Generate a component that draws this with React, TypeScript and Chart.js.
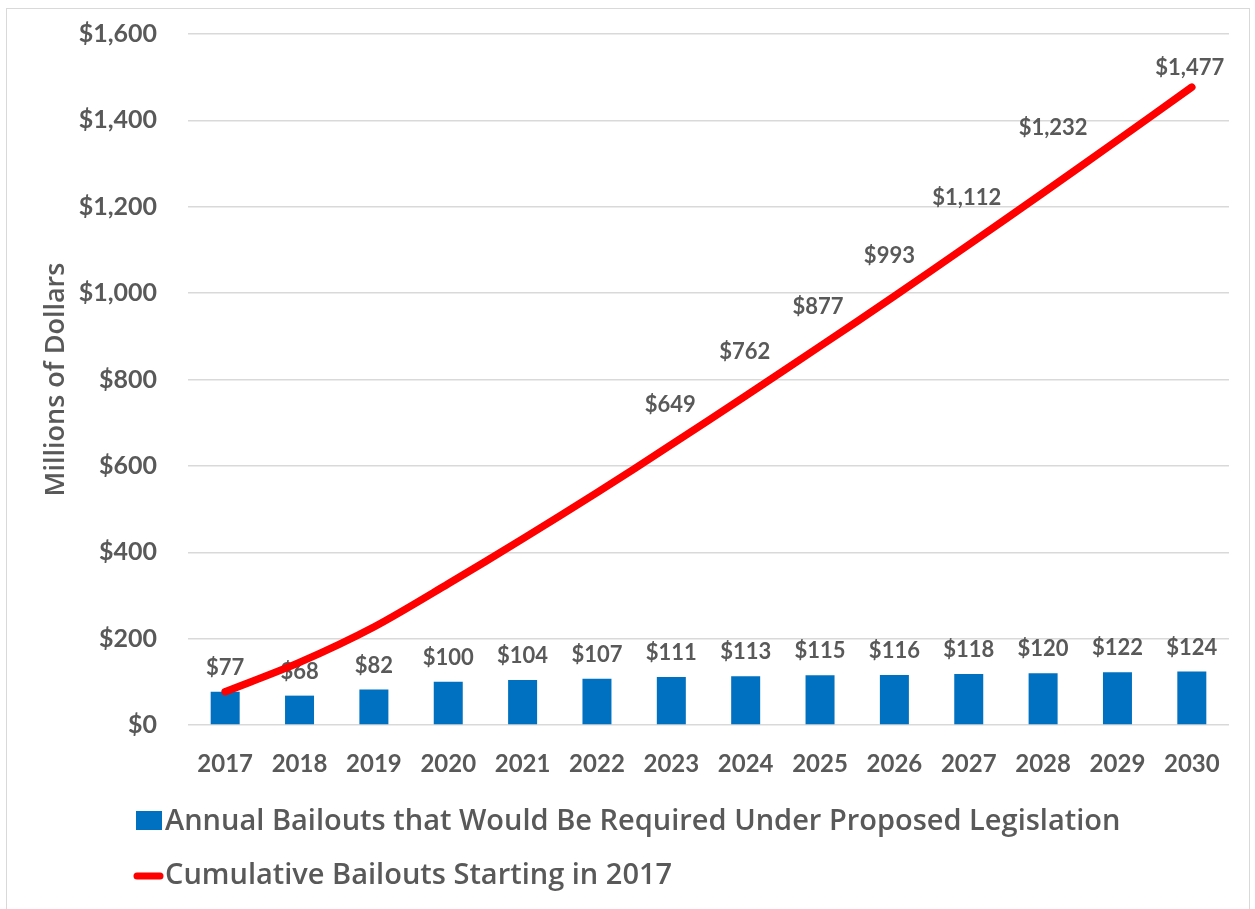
import React, { useEffect, useRef } from "react";
import { Chart, registerables } from "chart.js";

Chart.register(...registerables);

// ---- Data ----
const years = ["2017", "2018", "2019", "2020", "2021", "2022", "2023", "2024", "2025", "2026", "2027", "2028", "2029", "2030"];
const annualBailouts = [77, 68, 82, 100, 104, 107, 111, 113, 115, 116, 118, 120, 122, 124];
const cumulativeBailouts = [77, 145, 227, 327, 431, 538, 649, 762, 877, 993, 1112, 1232, 1354, 1477];
const barLabels = ["$77", "$68", "$82", "$100", "$104", "$107", "$111", "$113", "$115", "$116", "$118", "$120", "$122", "$124"];
const lineLabels: (string | null)[] = [null, null, null, null, null, null, "$649", "$762", "$877", "$993", "$1,112", "$1,232", null, "$1,477"];
const yTickValues = [0, 200, 400, 600, 800, 1000, 1200, 1400, 1600];
const seriesNames = [
  "Annual Bailouts that Would Be Required Under Proposed Legislation",
  "Cumulative Bailouts Starting in 2017",
];
const yAxisTitle = "Millions of Dollars";

// ---- Style ----
const TEXT = "#595959";
const BLUE = "#0070C0";
const RED = "#FF0000";
const GRID = "#d9d9d9";
const FONT = "Lato, 'Open Sans', sans-serif";
const FONT2 = "'Open Sans', Lato, sans-serif";
const lineLabelLift = [40, 40, 40, 40, 40, 40, 40, 44, 39, 40, 47, 65, 40, 19];
const lineLabelShift = [0, 0, 0, 0, 0, 0, -1, -1, -2, -5, -2, 10, 0, -2];

const labelPlugin = {
  id: "valueLabels",
  afterDatasetDraw(chart: any, args: any) {
    if (args.index !== 0) return;
    const ctx = chart.ctx;
    ctx.save();
    ctx.font = `bold 22px ${FONT}`;
    ctx.fillStyle = TEXT;
    ctx.textAlign = "center";
    ctx.textBaseline = "middle";
    args.meta.data.forEach((bar: any, i: number) => {
      ctx.fillText(barLabels[i], bar.x, bar.y - 24);
    });
    ctx.restore();
  },
  afterDatasetsDraw(chart: any) {
    const ctx = chart.ctx;
    const meta = chart.getDatasetMeta(1);
    ctx.save();
    ctx.font = `bold 22px ${FONT}`;
    ctx.fillStyle = TEXT;
    ctx.textAlign = "center";
    ctx.textBaseline = "middle";
    meta.data.forEach((pt: any, i: number) => {
      const t = lineLabels[i];
      if (!t) return;
      ctx.fillText(t, pt.x + lineLabelShift[i], pt.y - lineLabelLift[i]);
    });
    ctx.restore();
  },
  afterDraw(chart: any) {
    const ctx = chart.ctx;
    ctx.save();
    ctx.font = `600 29px ${FONT2}`;
    ctx.textAlign = "left";
    ctx.textBaseline = "middle";
    // row 1: bar series
    ctx.fillStyle = BLUE;
    ctx.fillRect(136, 811, 26, 19);
    ctx.fillStyle = TEXT;
    ctx.fillText(seriesNames[0], 165, 822);
    // row 2: line series
    ctx.strokeStyle = RED;
    ctx.lineWidth = 7;
    ctx.lineCap = "round";
    ctx.beginPath();
    ctx.moveTo(137, 876);
    ctx.lineTo(160, 876);
    ctx.stroke();
    ctx.fillText(seriesNames[1], 165, 876);
    ctx.restore();
  },
};

export default function App() {
  const canvasRef = useRef<HTMLCanvasElement | null>(null);

  useEffect(() => {
    if (!canvasRef.current) return;
    const chart = new Chart(canvasRef.current, {
      type: "bar",
      data: {
        labels: years,
        datasets: [
          {
            type: "bar",
            label: seriesNames[0],
            data: annualBailouts,
            backgroundColor: BLUE,
            borderWidth: 0,
            barPercentage: 0.39,
            categoryPercentage: 1,
            order: 1,
          },
          {
            type: "line",
            label: seriesNames[1],
            data: cumulativeBailouts,
            borderColor: RED,
            backgroundColor: RED,
            borderWidth: 7.5,
            borderCapStyle: "round",
            borderJoinStyle: "round",
            pointRadius: 0,
            tension: 0.3,
            order: 0,
          },
        ],
      },
      options: {
        responsive: false,
        animation: false,
        devicePixelRatio: 1,
        layout: { padding: { left: 20, right: 26, top: 34, bottom: 120 } },
        plugins: {
          legend: { display: false },
          tooltip: { enabled: false },
        },
        scales: {
          x: {
            offset: true,
            grid: { display: false },
            border: { display: false },
            ticks: {
              color: TEXT,
              font: { family: FONT, size: 24, weight: "bold" },
              padding: 17,
              maxRotation: 0,
              autoSkip: false,
            },
            afterFit(scale: any) {
              scale.height = 64;
            },
          },
          y: {
            min: 0,
            max: 1600,
            afterBuildTicks(scale: any) {
              scale.ticks = yTickValues.map((v) => ({ value: v }));
            },
            grid: { color: GRID, lineWidth: 1.5, drawTicks: false },
            border: { display: false },
            ticks: {
              color: TEXT,
              font: { family: FONT, size: 25, weight: "bold" },
              padding: 31,
              callback: (v: any) => "$" + Number(v).toLocaleString("en-US"),
            },
            title: {
              display: true,
              text: yAxisTitle,
              color: TEXT,
              font: { family: FONT2, size: 27, weight: "600" },
              padding: { top: 20, bottom: 0 },
            },
            afterFit(scale: any) {
              scale.width = 168;
              scale.paddingTop = 0;
              scale.paddingBottom = 0;
            },
          },
        },
      },
      plugins: [labelPlugin],
    });
    return () => chart.destroy();
  }, []);

  return (
    <div style={{ position: "fixed", left: 0, top: 0, width: 1255, height: 909, background: "#fff" }}>
      <canvas ref={canvasRef} width={1255} height={909} style={{ position: "absolute", left: 0, top: 0 }} />
      <div
        style={{
          position: "absolute",
          left: 6,
          top: 8,
          width: 1244,
          height: 910,
          border: "1.5px solid #d9d9d9",
          boxSizing: "border-box",
          pointerEvents: "none",
        }}
      />
    </div>
  );
}
